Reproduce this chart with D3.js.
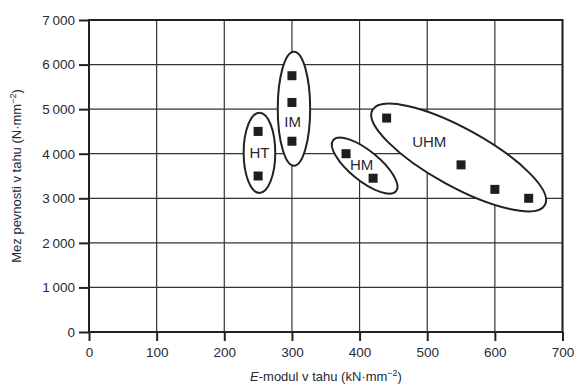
<!DOCTYPE html>
<html>
<head>
<meta charset="utf-8">
<script src="https://cdn.jsdelivr.net/npm/d3@7"></script>
<style>
  body { margin: 0; background: #fff; }
  text { font-family: "Liberation Sans", Arial, sans-serif; fill: #262a35; }
</style>
</head>
<body>
<div id="chart"></div>
<script>
// Fibre classes: modulus (kN/mm2) and strength (N/mm2)
const groups = ['HT', 'IM', 'HM', 'UHM']
const modulus = [250, 250, 300, 300, 300, 380, 420, 440, 550, 600, 650]
const strength = [4500, 3500, 5750, 5150, 4280, 4000, 3450, 4800, 3750, 3200, 3000]

// Ellipse outlines: major axis endpoints in data units
const ellipseStart = [[252, 4920], [303, 6290], [361, 4305], [419, 4980]]
const ellipseEnd = [[252, 3120], [303, 3730], [454, 3160], [674, 2850]]
const ellipseMinor = [15.8, 16.2, 15, 29]
const labelAt = [[252, 4020], [301, 4730], [403, 3760], [503, 4270]]

const xTicks = [0, 100, 200, 300, 400, 500, 600, 700]
const yTicks = [0, 1000, 2000, 3000, 4000, 5000, 6000, 7000]

const width = 577
const height = 386
const margin = { top: 20, right: 14, bottom: 54, left: 89 }

const svg = d3
  .select('#chart')
  .append('svg')
  .attr('width', width)
  .attr('height', height)

const x = d3.scaleLinear().domain([0, 700]).range([margin.left, width - margin.right - 0.5])
const y = d3.scaleLinear().domain([0, 7000]).range([height - margin.bottom, margin.top])

// Grid
svg
  .append('g')
  .selectAll('line.gx')
  .data(xTicks)
  .join('line')
  .attr('x1', (d) => x(d))
  .attr('x2', (d) => x(d))
  .attr('y1', y(0))
  .attr('y2', y(7000))
  .attr('stroke', '#333')
  .attr('stroke-width', 1.2)

svg
  .append('g')
  .selectAll('line.gy')
  .data(yTicks)
  .join('line')
  .attr('x1', x(0))
  .attr('x2', x(700))
  .attr('y1', (d) => y(d))
  .attr('y2', (d) => y(d))
  .attr('stroke', '#333')
  .attr('stroke-width', 1.2)

// Frame
svg
  .append('rect')
  .attr('x', x(0))
  .attr('y', y(7000))
  .attr('width', x(700) - x(0))
  .attr('height', y(0) - y(7000))
  .attr('fill', 'none')
  .attr('stroke', '#222')
  .attr('stroke-width', 2)

const fmt = (d) => (d >= 1000 ? d3.format('d')(d).replace(/(\d)(\d{3})$/, '$1\u2009$2') : String(d))

// Axes
const xAxis = svg
  .append('g')
  .attr('transform', `translate(0,${y(0)})`)
  .call(d3.axisBottom(x).tickValues(xTicks).tickSize(9).tickPadding(6).tickFormat(fmt))
const yAxis = svg
  .append('g')
  .attr('transform', `translate(${x(0)},0)`)
  .call(d3.axisLeft(y).tickValues(yTicks).tickSize(10).tickPadding(4).tickFormat(fmt))

for (const a of [xAxis, yAxis]) {
  a.select('.domain').remove()
  a.selectAll('.tick line').attr('stroke', '#222').attr('stroke-width', 2)
  a.selectAll('.tick text').attr('font-size', 13.5).attr('fill', '#262a35')
}

// Ellipses
groups.forEach((g, i) => {
  const [x1, y1] = [x(ellipseStart[i][0]), y(ellipseStart[i][1])]
  const [x2, y2] = [x(ellipseEnd[i][0]), y(ellipseEnd[i][1])]
  const cx = (x1 + x2) / 2
  const cy = (y1 + y2) / 2
  const rx = Math.hypot(x2 - x1, y2 - y1) / 2
  const angle = (Math.atan2(y2 - y1, x2 - x1) * 180) / Math.PI
  svg
    .append('ellipse')
    .attr('cx', 0)
    .attr('cy', 0)
    .attr('rx', rx)
    .attr('ry', ellipseMinor[i])
    .attr('transform', `translate(${cx},${cy}) rotate(${angle})`)
    .attr('fill', '#fff')
    .attr('stroke', '#222')
    .attr('stroke-width', 2)

  svg
    .append('text')
    .attr('x', x(labelAt[i][0]))
    .attr('y', y(labelAt[i][1]))
    .attr('text-anchor', 'middle')
    .attr('dominant-baseline', 'central')
    .attr('font-size', 15)
    .text(g)
})

// Points
svg
  .append('g')
  .selectAll('rect')
  .data(modulus.map((m, i) => [m, strength[i]]))
  .join('rect')
  .attr('x', (d) => x(d[0]) - 4.5)
  .attr('y', (d) => y(d[1]) - 4.5)
  .attr('width', 9)
  .attr('height', 9)
  .attr('fill', '#1e1e1e')

// Axis titles
const xt = svg
  .append('text')
  .attr('x', 326)
  .attr('y', 381)
  .attr('text-anchor', 'middle')
  .attr('font-size', 13)
xt.append('tspan').attr('font-style', 'italic').text('E')
xt.append('tspan').text('-modul v tahu (kN\u00b7mm')
xt.append('tspan').attr('font-size', 9).attr('dy', -5).text('\u22122')
xt.append('tspan').attr('dy', 5).text(')')

const yt = svg
  .append('text')
  .attr('transform', `translate(21,${(y(0) + y(7000)) / 2}) rotate(-90)`)
  .attr('text-anchor', 'middle')
  .attr('font-size', 13)
yt.append('tspan').text('Mez pevnosti v tahu (N\u00b7mm')
yt.append('tspan').attr('font-size', 9).attr('dy', -5).text('\u22122')
yt.append('tspan').attr('dy', 5).text(')')
</script>
</body>
</html>
